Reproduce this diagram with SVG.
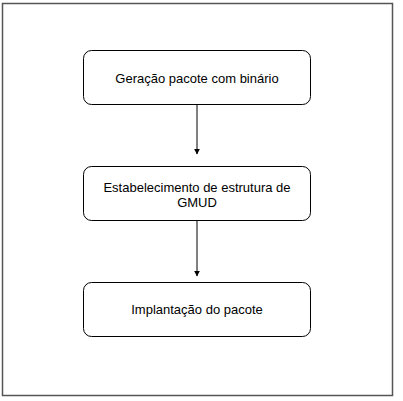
<svg xmlns="http://www.w3.org/2000/svg" width="403" height="401" viewBox="0 0 403 401">
  <defs>
    <style>
      .frame { fill: #ffffff; stroke: #555555; stroke-width: 1.5; }
      .node rect { fill: #ffffff; stroke: #000000; stroke-width: 1; }
      .node text { font-family: "Liberation Sans", Arial, sans-serif; font-size: 13px; fill: #000000; text-anchor: middle; }
      .edge { fill: none; stroke: #000000; stroke-width: 1; }
    </style>
    <marker id="arrow" viewBox="0 0 10 10" refX="9" refY="5" markerWidth="6" markerHeight="6" markerUnits="userSpaceOnUse" orient="auto">
      <path d="M0,0 L10,5 L0,10 Z" fill="#000000"/>
    </marker>
  </defs>
  <rect width="403" height="401" fill="#ffffff"/>
  <rect class="frame" x="2.5" y="3.5" width="390" height="392"/>
  <g id="connectors">
    <path class="edge" d="M197,104.5 L197,154" marker-end="url(#arrow)"/>
    <path class="edge" d="M197,220.5 L197,276" marker-end="url(#arrow)"/>
  </g>
  <g id="node1" class="node">
    <rect x="83.5" y="50.5" width="227" height="54" rx="8" ry="8"/>
    <text x="197" y="82.5">Geração pacote com binário</text>
  </g>
  <g id="node2" class="node">
    <rect x="83.5" y="166.5" width="227" height="54" rx="8" ry="8"/>
    <text x="197" y="191.5">Estabelecimento de estrutura de</text>
    <text x="197" y="207">GMUD</text>
  </g>
  <g id="node3" class="node">
    <rect x="83.5" y="282.5" width="227" height="54" rx="8" ry="8"/>
    <text x="197" y="314">Implantação do pacote</text>
  </g>
</svg>
